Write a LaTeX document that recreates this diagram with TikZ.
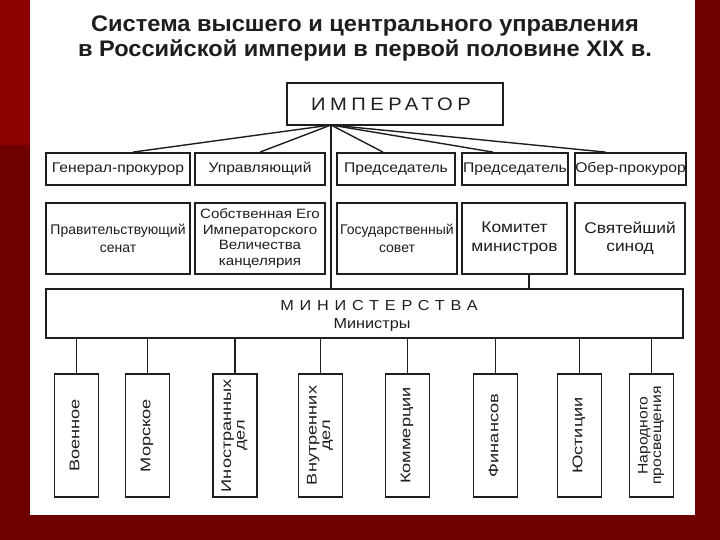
\documentclass[tikz,border=0pt]{standalone}
\usepackage{fontspec}
\setmainfont{Liberation Sans}
\newfontfamily\wf[FakeStretch=1.12]{Liberation Sans}
\newfontfamily\vf[FakeStretch=1.3]{Liberation Sans}
\newfontfamily\wfb[FakeStretch=1.05]{Liberation Sans Bold}
\definecolor{redA}{RGB}{139,0,0}
\definecolor{redB}{RGB}{110,0,0}
\definecolor{ink}{RGB}{30,30,30}
\newcommand{\vtxt}[1]{\rotatebox{90}{\begin{tabular}{@{}c@{}}#1\end{tabular}}}
\usetikzlibrary{calc}
\begin{document}
\begin{tikzpicture}[x=1pt,y=-1pt,
  box/.style={draw=ink, line width=1.8pt, inner sep=0pt, align=center, fill=white, text=ink},
  conn/.style={draw=ink, line width=1.4pt},
  rowone/.style={box, minimum height=32pt, font=\wf\fontsize{14}{16}\selectfont},
  rowtwo/.style={box, minimum height=71pt, font=\rmfamily\fontsize{14}{18}\selectfont},
  bigtwo/.style={rowtwo, font=\wf\fontsize{15.5}{18.5}\selectfont},
  minbox/.style={box, minimum width=44pt, minimum height=123pt, font=\vf\fontsize{14}{13.5}\selectfont}]
\fill[redB] (0,0) rectangle (720,540);
\fill[redA] (0,0) rectangle (30,145);
\fill[white] (30,0) rectangle (695,515);
\useasboundingbox (0,0) rectangle (720,540);
% title
\node[anchor=base, font=\wfb\fontsize{22.5}{24}\selectfont, text=ink] (t1) at (365,31.5) {Система высшего и центрального управления};
\node[anchor=base, font=\wfb\fontsize{22.5}{24}\selectfont, text=ink] (t2) at (365,57) {в Российской империи в первой половине XIX в.};
% emperor
\node[box, minimum width=216pt, minimum height=42pt, font=\wf\fontsize{18}{20}\selectfont] (emp) at (395,104) {\addfontfeature{LetterSpace=25}ИМПЕРАТОР\hspace*{8pt}};
\coordinate (hub) at (331,125);
% row 1
\node[rowone, minimum width=144pt] (r1a) at (118,169) {Генерал-прокурор};
\node[rowone, minimum width=130pt] (r1b) at (260,169) {Управляющий};
\node[rowone, minimum width=118pt] (r1c) at (396,169) {Председатель};
\node[rowone, minimum width=106pt] (r1d) at (515,169) {Председатель};
\node[rowone, minimum width=109pt] (r1e) at (630.5,169) {Обер-прокурор};
% row 2
\node[rowtwo, minimum width=144pt] (r2a) at (118,238.5) {Правительствующий\\сенат};
\node[rowtwo, minimum width=130pt, font=\wf\fontsize{13.5}{15.5}\selectfont] (r2b) at (260,238.5) {Собственная Его\\Императорского\\Величества\\канцелярия};
\node[rowtwo, minimum width=120pt] (r2c) at (397,238.5) {Государственный\\совет};
\node[bigtwo, minimum width=105pt] (r2d) at (514.5,238.5) {Комитет\\министров};
\node[bigtwo, minimum width=110pt] (r2e) at (630,238.5) {Святейший\\синод};
% ministries
\node[box, minimum width=637pt, minimum height=49pt] (min) at (364.5,313.5) {};
\node[align=center, text=ink, font=\wf\fontsize{14.5}{17.5}\selectfont] (minT) at (372,316) {\hspace*{14pt}{\addfontfeature{LetterSpace=40}МИНИСТЕРСТВА}\\Министры};
% ministry boxes
\node[minbox] (m1) at (76.5,435.5) {\vtxt{Военное}};
\node[minbox] (m2) at (147.5,435.5) {\vtxt{Морское}};
\node[minbox] (m3) at (235,435.5) {\vtxt{Иностранных\\дел}};
\node[minbox] (m4) at (320.5,435.5) {\vtxt{Внутренних\\дел}};
\node[minbox] (m5) at (407.5,435.5) {\vtxt{Коммерции}};
\node[minbox] (m6) at (495.5,435.5) {\vtxt{Финансов}};
\node[minbox] (m7) at (579.5,435.5) {\vtxt{Юстиции}};
\node[minbox, font=\wf\fontsize{14}{13.5}\selectfont] (m8) at (651.5,435.5) {\vtxt{Народного\\просвещения}};
% connectors
\draw[conn] (hub) -- ($(r1a.north)+(15,0)$);
\draw[conn] (hub) -- (r1b.north);
\draw[conn] (hub) -- ($(r1c.north)+(-13,0)$);
\draw[conn] (hub) -- ($(r1d.north)+(-22,0)$);
\draw[conn] (hub) -- ($(r1e.north)+(-25,0)$);
\draw[conn, line width=1.1pt] (hub) -- (hub |- min.north);
\coordinate (kc) at ($(r2d.south)+(14.5,0)$);
\draw[conn, line width=1.1pt] (kc) -- (kc |- min.north);
\foreach \m in {m1,m2,m3,m4,m5,m6,m7,m8}{
  \draw[conn] (\m.north) -- (\m.north |- min.south);
}
\end{tikzpicture}
\end{document}
